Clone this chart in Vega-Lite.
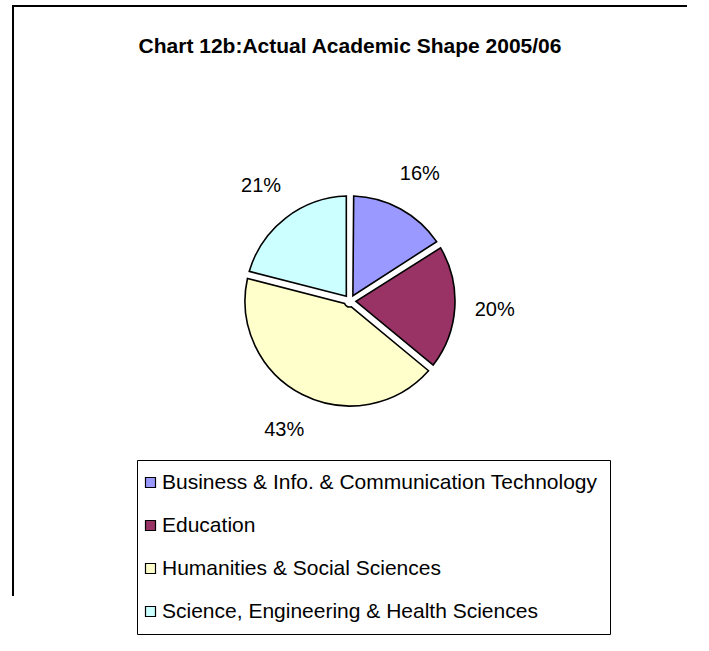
{
  "$schema": "https://vega.github.io/schema/vega-lite/v6.json",
  "width": 674,
  "height": 590,
  "autosize": {"type": "none"},
  "padding": {"left": 13, "top": 6, "right": 22, "bottom": 55},
  "background": "white",
  "view": {"stroke": "black", "strokeWidth": 2, "strokeDash": [1264, 1264], "strokeDashOffset": 590},
  "config": {
    "font": "Liberation Sans"
  },
  "title": {
    "text": "Chart 12b:Actual Academic Shape 2005/06",
    "fontSize": 21,
    "fontWeight": "bold",
    "font": "Liberation Sans",
    "color": "black",
    "anchor": "middle",
    "frame": "group",
    "baseline": "alphabetic",
    "offset": -68
  },
  "data": {
    "values": [
      {"category": "Business & Info. & Communication Technology", "share": 0.16},
      {"category": "Education", "share": 0.20},
      {"category": "Humanities & Social Sciences", "share": 0.43},
      {"category": "Science, Engineering & Health Sciences", "share": 0.21}
    ]
  },
  "encoding": {
    "theta": {"field": "share", "type": "quantitative", "stack": true},
    "order": {"field": "category", "type": "ordinal", "sort": "ascending"}
  },
  "layer": [
    {
      "mark": {"type": "arc", "outerRadius": 105, "innerRadius": 6, "padAngle": 0.07, "stroke": "black", "strokeWidth": 1.6},
      "encoding": {
        "color": {
          "field": "category",
          "type": "nominal",
          "scale": {
            "domain": ["Business & Info. & Communication Technology", "Education", "Humanities & Social Sciences", "Science, Engineering & Health Sciences"],
            "range": ["#9999FF", "#993366", "#FFFFCC", "#CCFFFF"]
          },
          "legend": {
            "title": null,
            "orient": "none",
            "legendX": 124,
            "legendY": 454,
            "direction": "vertical",
            "strokeColor": "black",
            "padding": 12,
            "symbolType": "square",
            "symbolSize": 100,
            "symbolStrokeColor": "black",
            "symbolStrokeWidth": 1.2,
            "symbolOpacity": 1,
            "symbolOffset": -9,
            "labelFont": "Liberation Sans",
            "labelFontSize": 21,
            "labelColor": "black",
            "labelLimit": 1000,
            "labelOffset": 1,
            "rowPadding": 21
          }
        }
      }
    },
    {
      "mark": {"type": "text", "radius": 145, "fontSize": 20, "font": "Liberation Sans", "color": "black"},
      "encoding": {
        "text": {"field": "share", "type": "quantitative", "format": ".0%"},
        "detail": {"field": "category", "type": "nominal"}
      }
    }
  ]
}
